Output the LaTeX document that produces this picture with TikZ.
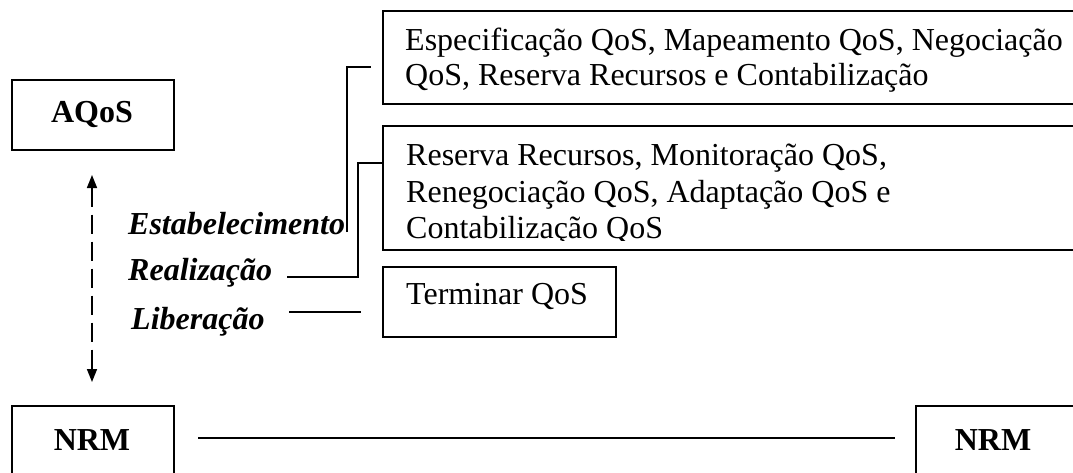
\documentclass[tikz,border=0pt]{standalone}
\usepackage{fontspec}
\setmainfont{Liberation Serif}
\usetikzlibrary{arrows.meta}
\begin{document}
\begin{tikzpicture}[x=1pt,y=-1pt,
  box/.style={draw,line width=1.6pt,inner sep=0pt,outer sep=0pt,anchor=north west},
  txt/.style={anchor=base west,inner sep=0pt,font=\fontsize{32}{36}\selectfont},
  lbl/.style={anchor=base,inner sep=0pt,font=\fontsize{32}{36}\selectfont\bfseries},
  phase/.style={anchor=base west,inner sep=0pt,font=\fontsize{32}{36}\selectfont\bfseries\itshape},
  conn/.style={line width=1.6pt},
  dasharrow/.style={line width=1.6pt,dash pattern=on 19pt off 8pt,
    {Triangle[length=13pt,width=10pt]}-{Triangle[length=13pt,width=10pt]}}]
\useasboundingbox (0,0) rectangle (1073,472);
\clip (0,0) rectangle (1073,472);
% boxes
\node[box,minimum width=162pt,minimum height=70pt] (aqos) at (12,80) {};
\node[box,minimum width=162pt,minimum height=84pt] (nrmL) at (12,406) {};
\node[box,minimum width=174pt,minimum height=84pt] (nrmR) at (916,406) {};
\node[box,minimum width=707pt,minimum height=93pt] (box1) at (383,11) {};
\node[box,minimum width=707pt,minimum height=124pt] (box2) at (383,126) {};
\node[box,minimum width=233pt,minimum height=70pt] (box3) at (383,267) {};
% box labels
\node[lbl] (aqosT) at (92,122) {AQoS};
\node[lbl] (nrmLT) at (92,450) {NRM};
\node[lbl] (nrmRT) at (993,450) {NRM};
% box texts
\node[txt] (b1a) at (405,50) {Especificação QoS, Mapeamento QoS, Negociação};
\node[txt] (b1b) at (405,85) {QoS, Reserva Recursos e Contabilização};
\node[txt] (b2a) at (406,165) {Reserva Recursos, Monitoração QoS,};
\node[txt] (b2b) at (406,202) {Renegociação QoS, Adaptação QoS e};
\begin{scope}
\clip (383,200) rectangle (1073,240);
\node[txt] (b2c) at (406,238) {Contabilização QoS};
\end{scope}
\node[txt] (b3) at (406,304) {Terminar QoS};
% phase labels
\node[phase] (est) at (128,234) {Estabelecimento};
\node[phase] (real) at (128,280) {Realização};
\node[phase] (lib) at (131,329) {Liberação};
% connectors
\coordinate (e0) at (347,232);
\coordinate (e1) at (371,67);
\draw[conn] (e0) |- (e1);
\coordinate (r0) at (287,277);
\coordinate (r1) at (383,163);
\draw[conn] (r0) -- (358,277) |- (r1);
\coordinate (l0) at (289,312);
\coordinate (l1) at (361,312);
\draw[conn] (l0) -- (l1);
\draw[conn,shorten <=24pt,shorten >=21pt] ([yshift=10pt]nrmL.east) -- ([yshift=10pt]nrmR.west);
\draw[dasharrow,shorten <=25pt,shorten >=24pt] ([xshift=-1pt]aqos.south) -- ([xshift=-1pt]nrmL.north);
\end{tikzpicture}
\end{document}
